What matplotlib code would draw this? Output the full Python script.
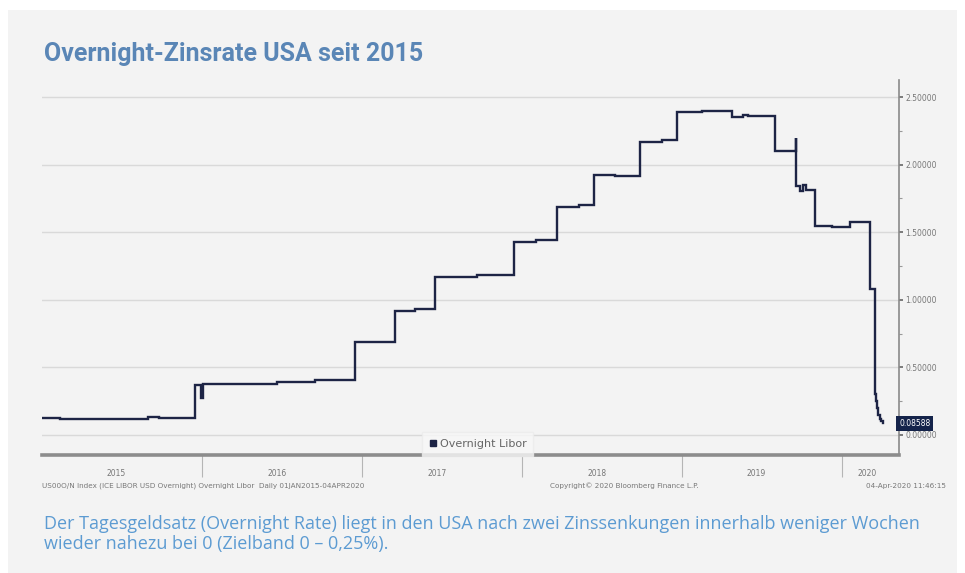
import matplotlib
matplotlib.use("Agg")
import matplotlib.pyplot as plt
import matplotlib.dates as mdates
from matplotlib.lines import Line2D
from matplotlib.patches import Rectangle
import datetime as dt

# ---- data ----
dates = [
    "2015-01-02", "2015-02-10", "2015-03-20", "2015-09-01", "2015-09-25",
    "2015-12-17", "2015-12-31", "2016-01-04", "2016-03-15", "2016-06-20",
    "2016-09-15", "2016-12-15", "2017-01-20", "2017-03-16", "2017-05-01",
    "2017-06-15", "2017-09-20", "2017-12-14", "2018-02-01", "2018-03-22",
    "2018-05-10", "2018-06-14", "2018-08-01", "2018-09-27", "2018-11-15",
    "2018-12-20", "2019-02-15", "2019-04-24", "2019-05-20", "2019-06-01",
    "2019-08-01", "2019-09-17", "2019-09-19", "2019-09-28", "2019-10-03",
    "2019-10-10", "2019-10-31", "2019-12-10", "2020-01-20", "2020-03-04",
    "2020-03-16", "2020-03-17", "2020-03-18", "2020-03-20", "2020-03-24",
    "2020-03-27", "2020-03-31", "2020-04-03",
]
values = [
    0.125, 0.118, 0.120, 0.135, 0.128,
    0.370, 0.270, 0.375, 0.380, 0.395,
    0.410, 0.685, 0.690, 0.920, 0.930,
    1.170, 1.180, 1.430, 1.440, 1.685,
    1.700, 1.925, 1.915, 2.170, 2.180,
    2.390, 2.395, 2.355, 2.370, 2.360,
    2.100, 2.200, 1.840, 1.805, 1.850,
    1.815, 1.545, 1.540, 1.575, 1.080,
    0.380, 0.300, 0.250, 0.200, 0.150,
    0.120, 0.100, 0.086,
]
last_value_label = "0.08588"
year_labels = ["2015", "2016", "2017", "2018", "2019", "2020"]
year_label_pos = ["2015-06-20", "2016-06-20", "2017-06-20", "2018-06-20", "2019-06-20", "2020-02-27"]
year_bounds = ["2016-01-01", "2017-01-01", "2018-01-01", "2019-01-01", "2020-01-01"]
y_ticks = [0.0, 0.5, 1.0, 1.5, 2.0, 2.5]
series_name = "Overnight Libor"

title = "Overnight-Zinsrate USA seit 2015"
caption = ("Der Tagesgeldsatz (Overnight Rate) liegt in den USA nach zwei Zinssenkungen innerhalb weniger Wochen\n"
           "wieder nahezu bei 0 (Zielband 0 \u2013 0,25%).")
footer_left = "US00O/N Index (ICE LIBOR USD Overnight) Overnight Libor  Daily 01JAN2015-04APR2020"
footer_mid = "Copyright\u00a9 2020 Bloomberg Finance L.P."
footer_right = "04-Apr-2020 11:46:15"

# ---- figure ----
W, H = 965, 573
fig = plt.figure(figsize=(W / 100, H / 100), dpi=100)
fig.patch.set_facecolor("white")
bg = "#f3f3f3"
fig.patches.append(Rectangle((8 / W, 0), (957 - 8) / W, (H - 10) / H,
                             transform=fig.transFigure, facecolor=bg, edgecolor="none", zorder=-10))

ax = fig.add_axes([42 / W, (H - 455) / H, (899 - 42) / W, (455 - 80) / H])
ax.set_facecolor(bg)

x = [dt.datetime.fromisoformat(d) for d in dates]
navy = "#1d2445"
ax.plot(x, values, drawstyle="steps-post", color=navy, lw=1.7, solid_joinstyle="miter")

ax.set_xlim(dt.datetime(2015, 1, 1), dt.datetime(2020, 5, 10))
ax.set_ylim(-0.148, 2.626)

# grid
for yv in y_ticks:
    ax.axhline(yv, color="#d9d9d9", lw=1.0, zorder=0)

# y axis on the right
ax.yaxis.tick_right()
ax.set_yticks(y_ticks)
ax.set_yticklabels([f"{v:.5f}" for v in y_ticks])
ax.set_yticks([0.25, 0.75, 1.25, 1.75, 2.25], minor=True)
ax.tick_params(axis="y", which="major", direction="out", length=3, width=1.2, color="#666",
               labelsize=5.5, labelcolor="#777", pad=1.5)
ax.tick_params(axis="y", which="minor", direction="out", length=2, width=0.8, color="#999")
for s in ["left", "top"]:
    ax.spines[s].set_visible(False)
ax.spines["right"].set_color("#8a8a8a")
ax.spines["right"].set_linewidth(1.2)
ax.spines["bottom"].set_color("#8c8c8c")
ax.spines["bottom"].set_linewidth(2.6)

# x axis: year separators (major, no labels) and year labels (minor)
ax.set_xticks([dt.datetime.fromisoformat(d) for d in year_bounds])
ax.set_xticklabels([""] * len(year_bounds))
ax.tick_params(axis="x", which="major", direction="out", length=16, width=0.8, color="#b5b5b5")
ax.set_xticks([dt.datetime.fromisoformat(d) for d in year_label_pos], minor=True)
ax.set_xticklabels(year_labels, minor=True)
ax.tick_params(axis="x", which="minor", length=0, labelsize=5.5, labelcolor="#777", pad=10)

# last value tag
ax.text(1.0, values[-1], last_value_label, transform=ax.get_yaxis_transform(),
        ha="left", va="center", fontsize=5.5, color="white",
        bbox=dict(boxstyle="square,pad=0.35", facecolor="#14234a", edgecolor="none"),
        clip_on=False)

# legend
handle = Line2D([], [], ls="none", marker="s", markersize=5, color=navy)
leg = ax.legend([handle], [series_name], loc="lower center", bbox_to_anchor=(0.508, 0.0),
                frameon=True, fontsize=8, handletextpad=0.2, borderpad=0.3,
                handlelength=0.8, borderaxespad=0.25)
leg.get_frame().set_facecolor("#f8f8f8")
leg.get_frame().set_edgecolor("#ececec")
leg.get_frame().set_boxstyle("square")
for t in leg.get_texts():
    t.set_color("#666")

# footer texts
fs = 5.2
fig.text(42 / W, (H - 486) / H, footer_left, fontsize=fs, color="#777", ha="left", va="center")
fig.text(624 / W, (H - 486) / H, footer_mid, fontsize=fs, color="#777", ha="center", va="center")
fig.text(946 / W, (H - 486) / H, footer_right, fontsize=fs, color="#777", ha="right", va="center")

# title and caption
fig.text(44 / W, (H - 61) / H, title, fontsize=18, fontweight="bold", color="#5a86b6",
         family=["Roboto", "DejaVu Sans"], ha="left", va="baseline")
fig.text(44 / W, (H - 549) / H, caption, fontsize=13, color="#5c9bd2", linespacing=1.15,
         family=["Open Sans", "DejaVu Sans"], ha="left", va="baseline")

fig.savefig("out.png", dpi=100, facecolor=fig.get_facecolor())
